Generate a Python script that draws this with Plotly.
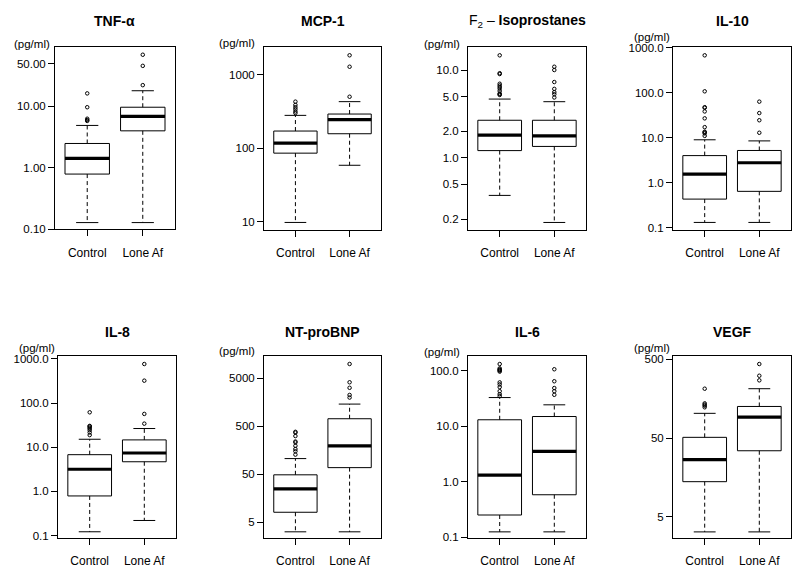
import plotly.graph_objects as go

# ---------------- data ----------------
titles = ["<b>TNF-α</b>", "<b>MCP-1</b>", "F<sub>2</sub> – <b>Isoprostanes</b>", "<b>IL-10</b>",
          "<b>IL-8</b>", "<b>NT-proBNP</b>", "<b>IL-6</b>", "<b>VEGF</b>"]
groups = ["Control", "Lone Af"]
unit_label = "(pg/ml)"

# Control: lower whisker, Q1, median, Q3, upper whisker, outliers
ctrl_low = [0.128, 9.8, 0.374, 0.13, 0.122, 3.13, 0.124, 3.19]
ctrl_q1 = [0.79, 86, 1.21, 0.43, 0.79, 8.0, 0.25, 13.9]
ctrl_med = [1.42, 118, 1.82, 1.55, 3.18, 24.6, 1.31, 26.6]
ctrl_q3 = [2.49, 172, 2.68, 4.0, 6.8, 48.2, 13.1, 51]
ctrl_high = [4.9, 281, 4.67, 9.0, 15.2, 105, 33, 103]
ctrl_out = [
    [16.3, 9.7, 6.3, 6.0, 5.8],
    [432, 390, 363, 341, 318, 302],
    [14.7, 9.2, 9.0, 6.98, 6.68, 6.41, 6.14, 5.78, 5.4, 5.3, 5.2],
    [684, 108, 47.8, 46.5, 38.5, 27, 17.2, 13.6, 13.2, 12.5, 11],
    [62, 30.5, 29.9, 28.0, 26.6, 24.4, 21.7, 18.9],
    [379, 365, 310, 238, 228, 194, 166, 149, 127],
    [133, 111, 106, 104, 101, 97, 62, 57, 51, 43, 38, 35],
    [212, 138, 133, 129, 123],
]

# Lone Af
af_low = [0.128, 58.8, 0.184, 0.13, 0.22, 3.13, 0.124, 3.19]
af_q1 = [4.0, 158, 1.35, 0.64, 4.7, 68, 0.58, 34.4]
af_med = [6.9, 246, 1.78, 2.77, 7.43, 194, 3.52, 92]
af_q3 = [9.7, 293, 2.68, 5.2, 14.7, 710, 15, 126]
af_high = [18, 432, 4.36, 8.5, 26.6, 1434, 24.4, 212]
af_out = [
    [69.5, 45.8, 22.2],
    [1848, 1291, 504],
    [10.9, 10.0, 7.3, 6.1, 5.6, 5.3, 4.87],
    [63.6, 35.4, 24.5, 12.9],
    [769, 323, 57, 34.3],
    [9820, 4085, 3133, 2222, 1960],
    [107, 65, 49, 43, 37],
    [437, 310, 271],
]

ytick_vals = [
    [0.1, 1, 10, 50],
    [10, 100, 1000],
    [0.2, 0.5, 1, 2, 5, 10],
    [0.1, 1, 10, 100, 1000],
    [0.1, 1, 10, 100, 1000],
    [5, 50, 500, 5000],
    [0.1, 1, 10, 100],
    [5, 50, 500],
]
ytick_text = [
    ["0.10", "1.00", "10.00", "50.00"],
    ["10", "100", "1000"],
    ["0.2", "0.5", "1.0", "2.0", "5.0", "10.0"],
    ["0.1", "1.0", "10.0", "100.0", "1000.0"],
    ["0.1", "1.0", "10.0", "100.0", "1000.0"],
    ["5", "50", "500", "5000"],
    ["0.1", "1.0", "10.0", "100.0"],
    ["5", "50", "500"],
]

# ---------------- layout geometry (pixels) ----------------
W, H = 800, 580
lefts = [55, 264, 468, 673, 58, 264, 468, 673]
rights = [175, 381, 586, 791, 176, 381, 586, 791]
tops = [43, 43, 43, 43, 358, 358, 358, 358]
bottoms = [228.5, 229, 229, 229, 543, 543, 543, 543]
yranges = [[-1.0, 1.965], [0.893, 3.377], [-0.817, 1.26], [-1.047, 3.016],
           [-1.048, 3.063], [0.373, 4.154], [-1.012, 2.265], [0.43, 2.74]]
unit_x = [52, 257, 462, 672, 57, 257, 462, 672]
unit_y = [40, 39, 40, 33, 350, 353, 354, 350]
title_y = [16, 16, 16, 16, 333, 333, 333, 333]

BOX_HW = 0.4
CAP_HW = 0.2
FONT = "Liberation Sans, Arial, sans-serif"

fig = go.Figure()
annotations = []
layout_axes = {}

for i in range(8):
    xa = "x" if i == 0 else f"x{i+1}"
    ya = "y" if i == 0 else f"y{i+1}"
    stats = [
        (1, ctrl_low[i], ctrl_q1[i], ctrl_med[i], ctrl_q3[i], ctrl_high[i], ctrl_out[i]),
        (2, af_low[i], af_q1[i], af_med[i], af_q3[i], af_high[i], af_out[i]),
    ]
    bx, by, mx, my, wx, wy, cx, cy, ox, oy = ([] for _ in range(10))
    for p, lo, q1, md, q3, hi, outs in stats:
        bx += [p - BOX_HW, p + BOX_HW, p + BOX_HW, p - BOX_HW, p - BOX_HW, None]
        by += [q1, q1, q3, q3, q1, None]
        mx += [p - BOX_HW, p + BOX_HW, None]
        my += [md, md, None]
        wx += [p, p, None, p, p, None]
        wy += [q3, hi, None, q1, lo, None]
        cx += [p - CAP_HW, p + CAP_HW, None, p - CAP_HW, p + CAP_HW, None]
        cy += [hi, hi, None, lo, lo, None]
        ox += [p] * len(outs)
        oy += list(outs)
    common = dict(xaxis=xa, yaxis=ya, showlegend=False, hoverinfo="skip")
    fig.add_trace(go.Scatter(x=wx, y=wy, mode="lines",
                             line=dict(color="black", width=1, dash="4px,3px"), **common))
    fig.add_trace(go.Scatter(x=cx, y=cy, mode="lines",
                             line=dict(color="black", width=1), **common))
    fig.add_trace(go.Scatter(x=bx, y=by, mode="lines",
                             line=dict(color="black", width=1), **common))
    fig.add_trace(go.Scatter(x=mx, y=my, mode="lines",
                             line=dict(color="black", width=3.2), **common))
    fig.add_trace(go.Scatter(x=ox, y=oy, mode="markers",
                             marker=dict(symbol="circle-open", size=3.5, color="black",
                                         line=dict(width=1, color="black")), **common))

    xd = [lefts[i] / W, rights[i] / W]
    yd = [1 - bottoms[i] / H, 1 - tops[i] / H]
    xkey = "xaxis" if i == 0 else f"xaxis{i+1}"
    ykey = "yaxis" if i == 0 else f"yaxis{i+1}"
    layout_axes[xkey] = dict(
        domain=xd, anchor=ya, range=[0.42, 2.58], tickmode="array",
        tickvals=[1, 2], ticktext=groups, ticks="outside", ticklen=6,
        tickcolor="black", showline=True, mirror=True, linecolor="black",
        linewidth=1, showgrid=False, zeroline=False,
        tickfont=dict(size=12, color="black", family=FONT), ticklabelstandoff=6,
    )
    layout_axes[ykey] = dict(
        domain=yd, anchor=xa, type="log", range=yranges[i], tickmode="array",
        tickvals=ytick_vals[i], ticktext=ytick_text[i], ticks="outside", ticklen=6,
        tickcolor="black", showline=True, mirror=True, linecolor="black",
        linewidth=1, showgrid=False, zeroline=False,
        tickfont=dict(size=11.5, color="black", family=FONT),
    )
    annotations.append(dict(
        text=titles[i], x=(lefts[i] + rights[i]) / 2 / W, y=1 - title_y[i] / H,
        xref="paper", yref="paper", xanchor="center", yanchor="middle",
        showarrow=False, font=dict(size=14, color="black", family=FONT),
    ))
    annotations.append(dict(
        text=unit_label, x=unit_x[i] / W, y=1 - unit_y[i] / H,
        xref="paper", yref="paper", xanchor="right", yanchor="middle",
        showarrow=False, font=dict(size=11.5, color="black", family=FONT),
    ))

fig.update_layout(
    width=W, height=H,
    margin=dict(l=0, r=0, t=0, b=0),
    paper_bgcolor="white", plot_bgcolor="white",
    annotations=annotations,
    font=dict(family=FONT, color="black"),
    **layout_axes,
)

fig.write_html("out.html", config={"displayModeBar": False},
               post_script="document.body.style.margin='0px';document.body.style.overflow='hidden';")
